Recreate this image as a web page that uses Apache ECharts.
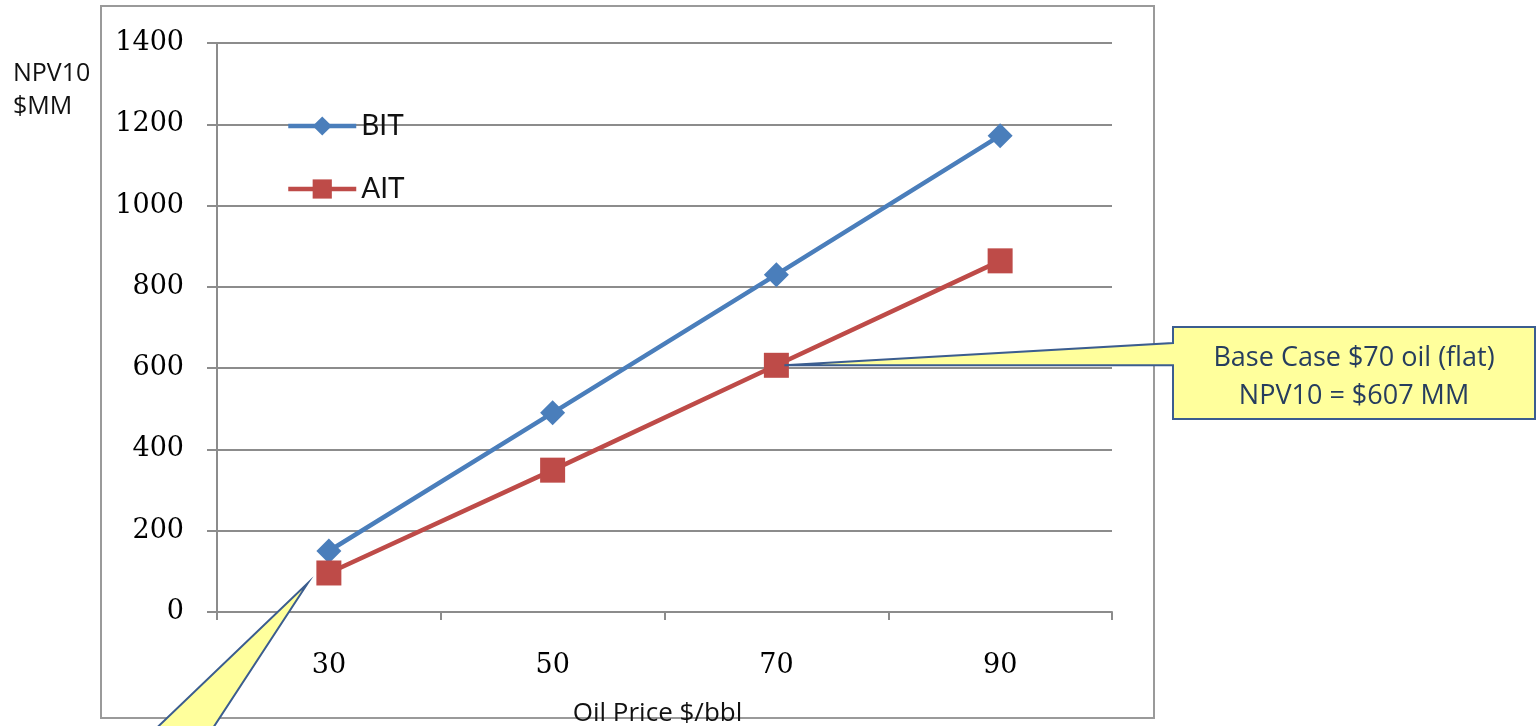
<!DOCTYPE html>
<html>
<head>
<meta charset="utf-8">
<style>
  html, body { margin: 0; padding: 0; background: #fff; }
  #chart { width: 1537px; height: 726px; }
</style>
<script src="https://cdn.jsdelivr.net/npm/echarts@6/dist/echarts.min.js"></script>
</head>
<body>
<div id="chart"></div>
<script>
// Oil price scenarios ($/bbl)
const oilPrices = ['30', '50', '70', '90'];
// NPV10 before income tax ($MM)
const bitValues = [150, 490, 830, 1172];
// NPV10 after income tax ($MM)
const aitValues = [96, 349, 607, 864];
const yTicks = { min: 0, max: 1400, interval: 200 };
const baseCaseIndex = 2;
const lowCaseIndex = 0;
const calloutLines = ['Base Case $70 oil (flat)', 'NPV10 = $607 MM'];

const chart = echarts.init(document.getElementById('chart'));
const serif = '"DejaVu Serif", "Liberation Serif", serif';
const sans = '"Open Sans", "Noto Sans", sans-serif';
const gridGray = '#8c8c8c';

chart.setOption({
  animation: false,
  title: {
    text: 'NPV10\n$MM',
    left: 8, top: 52,
    textStyle: { fontFamily: sans, fontSize: 25, fontWeight: 'normal', color: '#111', lineHeight: 33 }
  },
  legend: {
    orient: 'vertical',
    left: 281, top: 107,
    itemWidth: 68, itemHeight: 24, itemGap: 35,
    lineStyle: { width: 4.5 },
    textStyle: { fontFamily: 'Lato, ' + sans, fontSize: 28, color: '#111' },
    data: ['BIT', 'AIT']
  },
  grid: { left: 217, top: 43, right: 425, bottom: 114, outerBoundsMode: 'none', containLabel: false },
  xAxis: {
    type: 'category',
    data: oilPrices,
    boundaryGap: true,
    name: 'Oil Price $/bbl',
    nameLocation: 'middle',
    nameGap: 89,
    nameTextStyle: { fontFamily: sans, fontSize: 26, color: '#111', padding: [0, 14, 0, 0] },
    axisLine: { lineStyle: { color: gridGray, width: 2 } },
    axisTick: { show: true, length: 8, lineStyle: { color: gridGray, width: 2 } },
    axisLabel: { fontFamily: serif, fontSize: 27, color: '#000', margin: 40 }
  },
  yAxis: {
    type: 'value',
    min: yTicks.min, max: yTicks.max, interval: yTicks.interval,
    axisLine: { show: true, lineStyle: { color: gridGray, width: 2 } },
    axisTick: { show: true, length: 10, lineStyle: { color: gridGray, width: 2 } },
    splitLine: { lineStyle: { color: gridGray, width: 2 } },
    axisLabel: {
      fontFamily: serif, fontSize: 27, color: '#000', margin: 33,
      formatter: v => String(v)
    }
  },
  series: [
    {
      name: 'BIT', type: 'line', data: bitValues,
      symbol: 'diamond', symbolSize: 25,
      lineStyle: { color: '#4a7ebb', width: 4.5 },
      itemStyle: { color: '#4a7ebb' }
    },
    {
      name: 'AIT', type: 'line', data: aitValues,
      symbol: 'rect', symbolSize: 25,
      lineStyle: { color: '#be4b48', width: 4.5 },
      itemStyle: { color: '#be4b48' }
    }
  ]
});

// Callout annotations anchored to the AIT points
const baseTip = chart.convertToPixel({ seriesIndex: 1 }, [baseCaseIndex, aitValues[baseCaseIndex]]);
const lowTip = chart.convertToPixel({ seriesIndex: 1 }, [lowCaseIndex, aitValues[lowCaseIndex]]);
const bx = 1173, by = 327, bw = 362, bh = 92;
const tipA = [baseTip[0] + 8, baseTip[1]];
const tipB = [lowTip[0] - 21, lowTip[1] + 10];

chart.setOption({
  graphic: [
    {
      type: 'rect', z: 0, silent: true,
      shape: { x: 101, y: 6, width: 1053, height: 712 },
      style: { fill: 'none', stroke: '#9a9a9a', lineWidth: 2 }
    },
    {
      type: 'polygon', z: 100,
      shape: { points: [[bx, by], [bx + bw, by], [bx + bw, by + bh], [bx, by + bh], [bx, tipA[1]], tipA, [bx, by + 16]] },
      style: { fill: '#ffff9c', stroke: '#3b5d8f', lineWidth: 2 }
    },
    {
      type: 'text', z: 101,
      x: bx + bw / 2, y: by + bh / 2 + 4,
      style: {
        text: calloutLines.join('\n'),
        fontFamily: sans, fontSize: 27, lineHeight: 38,
        fill: '#263d5e', align: 'center', verticalAlign: 'middle'
      }
    },
    {
      type: 'polygon', z: 100,
      shape: { points: [tipB, [tipB[0] - 106, 745], [tipB[0] - 169, 745]] },
      style: { fill: '#ffff9c', stroke: '#3b5d8f', lineWidth: 2 }
    }
  ]
});
</script>
</body>
</html>
